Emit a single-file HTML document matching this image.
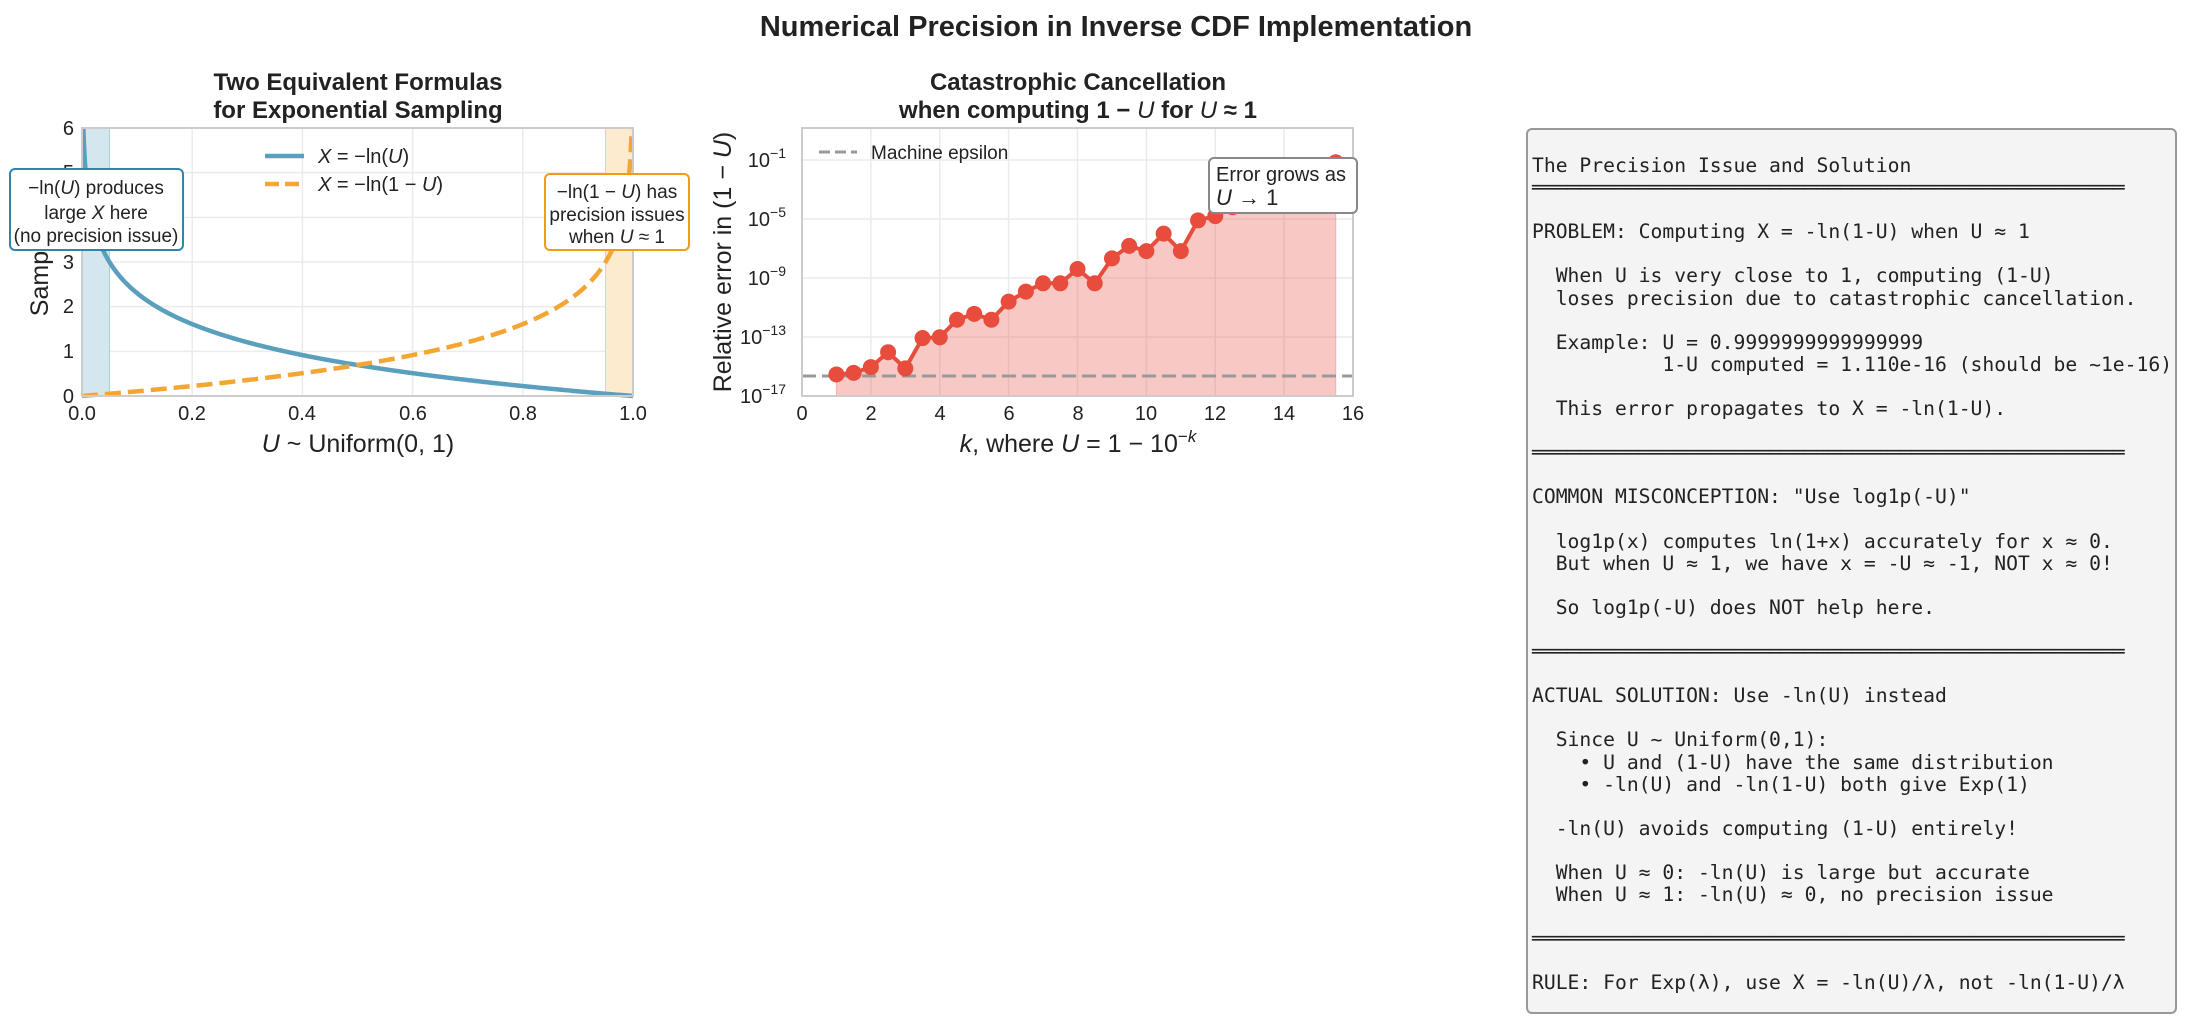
<!DOCTYPE html>
<html><head><meta charset="utf-8"><style>
body{margin:0;background:#fff;width:2188px;height:1026px;overflow:hidden;position:relative;font-family:"Liberation Sans",sans-serif;}
svg{position:absolute;left:0;top:0}
.box{position:absolute;left:1526px;top:128px;width:651px;height:886px;background:#f4f4f4;border:2px solid #999;border-radius:6px;box-sizing:border-box}
pre{position:absolute;left:1532px;top:155px;margin:0;font-family:"DejaVu Sans Mono","Liberation Mono",monospace;font-size:19.7px;line-height:22.1px;color:#222}
</style></head><body>
<svg width="2188" height="1026" font-family="Liberation Sans, sans-serif" fill="#222">
<text x="1116" y="36" font-size="29" font-weight="bold" text-anchor="middle">Numerical Precision in Inverse CDF Implementation</text>
<!-- LEFT -->
<text x="358" y="90" font-size="24" font-weight="bold" text-anchor="middle">Two Equivalent Formulas</text>
<text x="358" y="118" font-size="24" font-weight="bold" text-anchor="middle">for Exponential Sampling</text>
<g id="lg" stroke="#ebebeb" stroke-width="1.5"></g>
<rect x="82" y="128" width="27.5" height="268" fill="#d5e7ee"/>
<rect x="605.5" y="128" width="27.5" height="268" fill="#fdebd0"/>
<line x1="109.5" y1="128" x2="109.5" y2="396" stroke="#a9cfdf" stroke-width="1"/>
<line x1="605.5" y1="128" x2="605.5" y2="396" stroke="#f8cf8f" stroke-width="1"/>
<path id="blue" fill="none" stroke="#5a9fbd" stroke-width="4.5"/>
<path id="orng" fill="none" stroke="#f4a534" stroke-width="4.5" stroke-dasharray="16,7"/>
<rect x="82" y="128" width="551" height="268" fill="none" stroke="#ccc" stroke-width="2"/>
<g font-size="20" text-anchor="end">
<text x="74" y="403">0</text><text x="74" y="358">1</text><text x="74" y="313">2</text><text x="74" y="269">3</text><text x="74" y="224">4</text><text x="74" y="179">5</text><text x="74" y="135">6</text></g>
<g font-size="20" text-anchor="middle">
<text x="82" y="420">0.0</text><text x="192" y="420">0.2</text><text x="302" y="420">0.4</text><text x="413" y="420">0.6</text><text x="523" y="420">0.8</text><text x="633" y="420">1.0</text></g>
<text x="358" y="452" font-size="25" text-anchor="middle"><tspan font-style="italic">U</tspan> ~ Uniform(0, 1)</text>
<text transform="translate(48,262) rotate(-90)" font-size="25" text-anchor="middle">Sample <tspan font-style="italic">X</tspan></text>
<line x1="265" y1="156" x2="304" y2="156" stroke="#5a9fbd" stroke-width="4.5"/>
<text x="318" y="163" font-size="20"><tspan font-style="italic">X</tspan> = −ln(<tspan font-style="italic">U</tspan>)</text>
<line x1="265" y1="184" x2="304" y2="184" stroke="#f4a534" stroke-width="4.5" stroke-dasharray="14,6"/>
<text x="318" y="191" font-size="20"><tspan font-style="italic">X</tspan> = −ln(1 − <tspan font-style="italic">U</tspan>)</text>
<rect x="10" y="169" width="173" height="81" rx="5" fill="#fff" stroke="#2e86ab" stroke-width="2"/>
<g font-size="19" text-anchor="middle"><text x="96" y="194">−ln(<tspan font-style="italic">U</tspan>) produces</text><text x="96" y="219">large <tspan font-style="italic">X</tspan> here</text><text x="96" y="242">(no precision issue)</text></g>
<rect x="545" y="174" width="144" height="76" rx="5" fill="#fff" stroke="#f39c12" stroke-width="2"/>
<g font-size="19" text-anchor="middle"><text x="617" y="198">−ln(1 − <tspan font-style="italic">U</tspan>) has</text><text x="617" y="221">precision issues</text><text x="617" y="243">when <tspan font-style="italic">U</tspan> ≈ 1</text></g>
<!-- MIDDLE -->
<text x="1078" y="90" font-size="24" font-weight="bold" text-anchor="middle">Catastrophic Cancellation</text>
<text x="1078" y="118" font-size="24" font-weight="bold" text-anchor="middle">when computing 1 − <tspan font-style="italic" font-weight="normal">U</tspan> for <tspan font-style="italic" font-weight="normal">U</tspan> ≈ 1</text>
<g id="mg" stroke="#ebebeb" stroke-width="1.5"></g>
<path id="fill" fill="#e74c3c" fill-opacity="0.3" stroke="#e74c3c" stroke-opacity="0.3"/>
<line x1="802" y1="376" x2="1353" y2="376" stroke="#999" stroke-width="3" stroke-dasharray="14,6"/>
<path id="red" fill="none" stroke="#e74c3c" stroke-width="4"/>
<g id="dots" fill="#e74c3c"></g>
<rect x="802" y="128" width="551" height="268" fill="none" stroke="#ccc" stroke-width="2"/>
<g font-size="20" text-anchor="end" id="mylab"></g>
<g font-size="20" text-anchor="middle">
<text x="802" y="420">0</text><text x="871" y="420">2</text><text x="940" y="420">4</text><text x="1009" y="420">6</text><text x="1078" y="420">8</text><text x="1146" y="420">10</text><text x="1215" y="420">12</text><text x="1284" y="420">14</text><text x="1353" y="420">16</text></g>
<text x="1078" y="452" font-size="25" text-anchor="middle"><tspan font-style="italic">k</tspan>, where <tspan font-style="italic">U</tspan> = 1 − 10<tspan dy="-10" font-size="17">−<tspan font-style="italic">k</tspan></tspan></text>
<text transform="translate(731,262) rotate(-90)" font-size="25" text-anchor="middle">Relative error in (1 − <tspan font-style="italic">U</tspan>)</text>
<line x1="819" y1="152" x2="857" y2="152" stroke="#999" stroke-width="3" stroke-dasharray="11,5"/>
<text x="871" y="159" font-size="19">Machine epsilon</text>
<rect x="1209" y="158" width="148" height="55" rx="5" fill="#fff" stroke="#888" stroke-width="2"/>
<text x="1216" y="181" font-size="20">Error grows as</text>
<text x="1216" y="205" font-size="22"><tspan font-style="italic">U</tspan> → 1</text>
</svg>
<div class="box"></div>
<pre>The Precision Issue and Solution
══════════════════════════════════════════════════

PROBLEM: Computing X = -ln(1-U) when U ≈ 1

  When U is very close to 1, computing (1-U)
  loses precision due to catastrophic cancellation.

  Example: U = 0.9999999999999999
           1-U computed = 1.110e-16 (should be ~1e-16)

  This error propagates to X = -ln(1-U).

══════════════════════════════════════════════════

COMMON MISCONCEPTION: "Use log1p(-U)"

  log1p(x) computes ln(1+x) accurately for x ≈ 0.
  But when U ≈ 1, we have x = -U ≈ -1, NOT x ≈ 0!

  So log1p(-U) does NOT help here.

══════════════════════════════════════════════════

ACTUAL SOLUTION: Use -ln(U) instead

  Since U ~ Uniform(0,1):
    • U and (1-U) have the same distribution
    • -ln(U) and -ln(1-U) both give Exp(1)

  -ln(U) avoids computing (1-U) entirely!

  When U ≈ 0: -ln(U) is large but accurate
  When U ≈ 1: -ln(U) ≈ 0, no precision issue

══════════════════════════════════════════════════

RULE: For Exp(λ), use X = -ln(U)/λ, not -ln(1-U)/λ</pre>
<script>
var NS="http://www.w3.org/2000/svg";
function ln(g,x1,y1,x2,y2){var l=document.createElementNS(NS,"line");l.setAttribute("x1",x1);l.setAttribute("y1",y1);l.setAttribute("x2",x2);l.setAttribute("y2",y2);g.appendChild(l);}
var lg=document.getElementById("lg");
for(var i=1;i<5;i++)ln(lg,82+i*110.2,128,82+i*110.2,396);
for(var j=1;j<6;j++)ln(lg,82,396-j*44.67,633,396-j*44.67);
function X(u){return 82+u*551} function Y(v){return 396-v*44.67}
var b="",o="";
for(var k=0;k<=600;k++){var u=0.00248+(1-0.00248)*Math.pow(k/600,1.6);b+=(k?"L":"M")+X(u).toFixed(2)+","+Y(-Math.log(u)).toFixed(2);}
for(var k=0;k<=600;k++){var u=0.99752*(1-Math.pow(1-k/600,1.6));o+=(k?"L":"M")+X(u).toFixed(2)+","+Y(-Math.log(1-u)).toFixed(2);}
document.getElementById("blue").setAttribute("d",b);
document.getElementById("orng").setAttribute("d",o);
var mg=document.getElementById("mg");
for(var i=1;i<8;i++)ln(mg,802+i*68.875,128,802+i*68.875,396);
function MY(l){return 396-(l+17)*14.75}
var lab=document.getElementById("mylab");
[-17,-13,-9,-5,-1].forEach(function(e){ if(e>-17)ln(mg,802,MY(e),1353,MY(e));
 var t=document.createElementNS(NS,"text");t.setAttribute("x",786);t.setAttribute("y",MY(e)+7);
 t.innerHTML="10<tspan dy='-9' font-size='14'>"+(e<0?"−":"")+Math.abs(e)+"</tspan>";lab.appendChild(t);});
var v=[-15.54,-15.43,-15.04,-14.03,-15.13,-13.07,-13.02,-11.83,-11.43,-11.83,-10.6,-9.92,-9.36,-9.36,-8.39,-9.36,-7.67,-6.82,-7.18,-5.99,-7.18,-5.09,-4.8,-4.2,-3.8,-3.2,-2.6,-2.0,-1.5,-1.15];
var p="",dots=document.getElementById("dots");
v.forEach(function(l,i){var k=1+i*0.5,x=802+k*34.44,y=MY(l);p+=(i?"L":"M")+x+","+y;
 var c=document.createElementNS(NS,"circle");c.setAttribute("cx",x);c.setAttribute("cy",y);c.setAttribute("r",8);dots.appendChild(c);});
document.getElementById("red").setAttribute("d",p);
document.getElementById("fill").setAttribute("d",p+"L"+(802+15.5*34.44)+",396L"+(802+34.44)+",396Z");
</script>
</body></html>
